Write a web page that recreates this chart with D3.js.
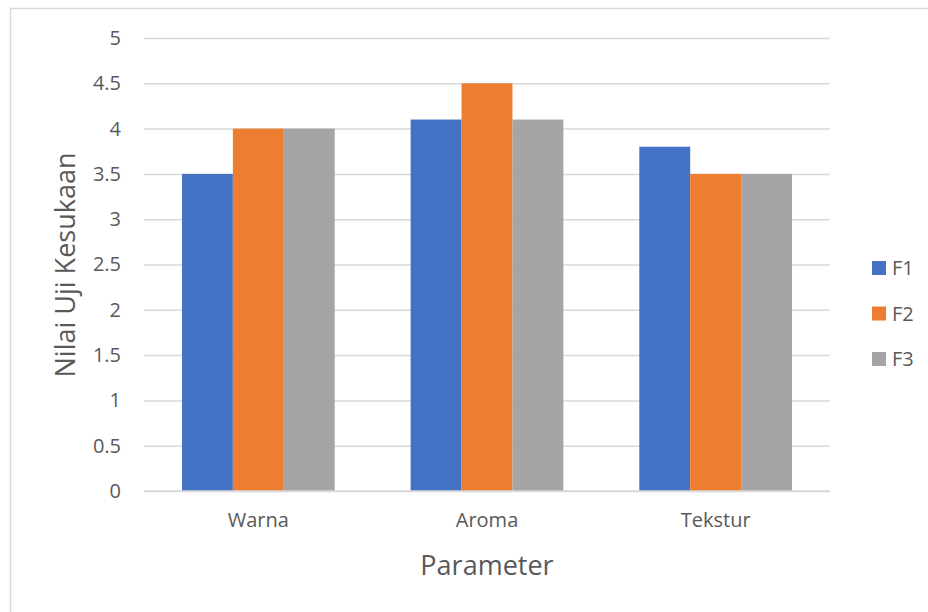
<!DOCTYPE html>
<html>
<head>
<meta charset="utf-8">
<script src="https://cdn.jsdelivr.net/npm/d3@7"></script>
<style>
  body { margin: 0; background: #fff; }
  text { font-family: "Open Sans", sans-serif; fill: #595959; }
</style>
</head>
<body>
<div id="chart"></div>
<script>
// data
const categories = ["Warna", "Aroma", "Tekstur"];
const series = ["F1", "F2", "F3"];
const valuesF1 = [3.5, 4.1, 3.8];
const valuesF2 = [4, 4.5, 3.5];
const valuesF3 = [4, 4.1, 3.5];
const yTicks = [0, 0.5, 1, 1.5, 2, 2.5, 3, 3.5, 4, 4.5, 5];
const colors = ["#4472C4", "#ED7D31", "#A5A5A5"];

const W = 928, H = 612;
const plot = { left: 144, right: 830, top: 38, bottom: 491 };

const svg = d3.select("#chart").append("svg")
  .attr("width", W)
  .attr("height", H);

// chart border
svg.append("rect")
  .attr("x", 10.5).attr("y", 8.5)
  .attr("width", W + 10).attr("height", H + 10)
  .attr("fill", "none")
  .attr("stroke", "#d9d9d9")
  .attr("stroke-width", 1.5);

const y = d3.scaleLinear().domain([0, 5]).range([plot.bottom, plot.top]);
const x0 = d3.scaleBand().domain(categories)
  .range([plot.left, plot.right])
  .paddingInner(0.332).paddingOuter(0.166);
const x1 = d3.scaleBand().domain(series).range([0, x0.bandwidth()]);
const color = d3.scaleOrdinal().domain(series).range(colors);

// gridlines + y tick labels
const yAxis = svg.append("g")
  .attr("transform", `translate(${plot.left},0)`)
  .call(d3.axisLeft(y).tickValues(yTicks).tickSize(-(plot.right - plot.left)).tickPadding(23).tickFormat(d3.format("")));
yAxis.select(".domain").remove();
yAxis.selectAll(".tick line").attr("stroke", "#d9d9d9").attr("stroke-width", 1.5);
yAxis.selectAll(".tick text").style("font-size", "20px").attr("fill", "#595959");

// bars
const rows = categories.map((c, i) => ({ cat: c, vals: [valuesF1[i], valuesF2[i], valuesF3[i]] }));
const groups = svg.append("g").selectAll("g")
  .data(rows)
  .enter().append("g")
  .attr("transform", d => `translate(${x0(d.cat)},0)`);
groups.selectAll("rect")
  .data(d => d.vals.map((v, j) => ({ key: series[j], v })))
  .enter().append("rect")
  .attr("x", d => x1(d.key))
  .attr("y", d => y(d.v))
  .attr("width", x1.bandwidth())
  .attr("height", d => y(0) - y(d.v))
  .attr("fill", d => color(d.key));

// x axis line on top of bars
svg.append("line")
  .attr("x1", plot.left).attr("x2", plot.right)
  .attr("y1", y(0)).attr("y2", y(0))
  .attr("stroke", "#d9d9d9").attr("stroke-width", 1.5);

// category labels
const xAxis = svg.append("g")
  .attr("transform", `translate(0,${plot.bottom})`)
  .call(d3.axisBottom(x0).tickSize(0).tickPadding(22));
xAxis.select(".domain").remove();
xAxis.selectAll(".tick text").style("font-size", "20px").attr("fill", "#595959");

// axis titles
svg.append("text")
  .attr("x", (plot.left + plot.right) / 2)
  .attr("y", 575)
  .attr("text-anchor", "middle")
  .style("font-size", "27px")
  .text("Parameter");

svg.append("text")
  .attr("transform", "translate(75,265) rotate(-90)")
  .attr("text-anchor", "middle")
  .style("font-size", "27px")
  .text("Nilai Uji Kesukaan");

// legend
const legend = svg.append("g").selectAll("g")
  .data(series)
  .enter().append("g")
  .attr("transform", (d, i) => `translate(872,${268 + i * 45.5})`);
legend.append("rect")
  .attr("x", 0).attr("y", -7)
  .attr("width", 14).attr("height", 14)
  .attr("fill", d => color(d));
legend.append("text")
  .attr("x", 20).attr("y", 7)
  .style("font-size", "20px")
  .text(d => d);
</script>
</body>
</html>
